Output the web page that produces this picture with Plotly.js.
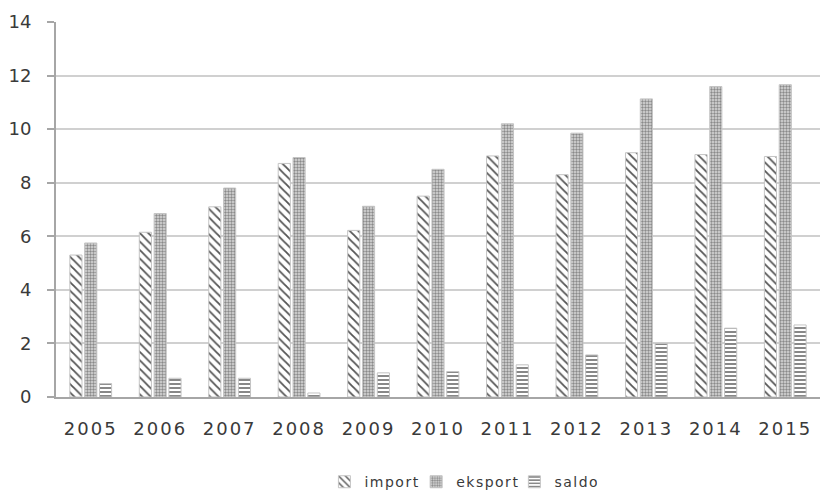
<!DOCTYPE html>
<html>
<head>
<meta charset="utf-8">
<script src="https://cdn.plot.ly/plotly-3.0.1.min.js"></script>
<style>
  html, body { margin: 0; padding: 0; background: #ffffff; }
  #chart { width: 823px; height: 494px; }
  /* slightly spaced category labels and legend text */
  #chart .xtick text { letter-spacing: 2px; }
  #chart .legendtext { letter-spacing: 1.5px; }
</style>
</head>
<body>
<div id="chart"></div>
<script>
// Years on the category axis
const years = ['2005', '2006', '2007', '2008', '2009', '2010', '2011', '2012', '2013', '2014', '2015'];

// Series values
const importVals  = [5.3, 6.15, 7.1, 8.72, 6.22, 7.5, 9.0, 8.3, 9.12, 9.05, 8.98];
const eksportVals = [5.75, 6.85, 7.8, 8.94, 7.12, 8.5, 10.2, 9.85, 11.13, 11.59, 11.66];
const saldoVals   = [0.5, 0.7, 0.7, 0.15, 0.9, 0.95, 1.2, 1.57, 2.0, 2.57, 2.69];

const yTicks = [0, 2, 4, 6, 8, 10, 12, 14];

const outline = { color: '#c4c4c4', width: 1 };

const traces = [
  {
    type: 'bar', name: 'import', x: years, y: importVals,
    marker: {
      color: '#ffffff', line: outline,
      pattern: { shape: '\\', fgcolor: '#555555', bgcolor: '#ffffff', size: 6, solidity: 0.3 }
    }
  },
  {
    type: 'bar', name: 'eksport', x: years, y: eksportVals,
    marker: {
      color: '#d4d4d4', line: outline,
      pattern: { shape: '.', fgcolor: '#8a8a8a', bgcolor: '#dcdcdc', size: 3, solidity: 0.5 }
    }
  },
  {
    type: 'bar', name: 'saldo', x: years, y: saldoVals,
    marker: {
      color: '#ffffff', line: outline,
      pattern: { shape: '-', fgcolor: '#6a6a6a', bgcolor: '#ffffff', size: 4, solidity: 0.4 }
    }
  }
];

const fam = 'DejaVu Sans, Verdana, sans-serif';
const axisFont = { family: fam, size: 18, color: '#3a3a3a' };

const layout = {
  width: 823, height: 494,
  margin: { l: 56, r: 3, t: 22, b: 96.5, autoexpand: false },
  paper_bgcolor: '#ffffff', plot_bgcolor: '#ffffff',
  barmode: 'group', bargap: 0.36, bargroupgap: 0.18,
  showlegend: true,
  legend: {
    orientation: 'h', x: 0.53, xanchor: 'center',
    yref: 'container', y: 0.024, yanchor: 'middle',
    font: { family: fam, size: 14, color: '#3a3a3a' },
    itemwidth: 30, tracegroupgap: 0
  },
  xaxis: {
    type: 'category', tickfont: axisFont, showgrid: false,
    showline: true, linecolor: '#a6a6a6', linewidth: 2,
    ticks: '', ticklabelstandoff: 14, fixedrange: true
  },
  yaxis: {
    range: [0, 14], tickvals: yTicks, ticktext: yTicks.map(String),
    tickfont: axisFont, showgrid: true, gridcolor: '#d0d0d0', gridwidth: 2,
    showline: true, linecolor: '#a6a6a6', linewidth: 2,
    ticks: 'outside', ticklen: 7, tickcolor: '#a6a6a6', tickwidth: 2,
    ticklabelstandoff: 12, zeroline: false, fixedrange: true
  },
  font: { family: fam }
};

Plotly.newPlot('chart', traces, layout, { displayModeBar: false, staticPlot: true });
</script>
</body>
</html>
